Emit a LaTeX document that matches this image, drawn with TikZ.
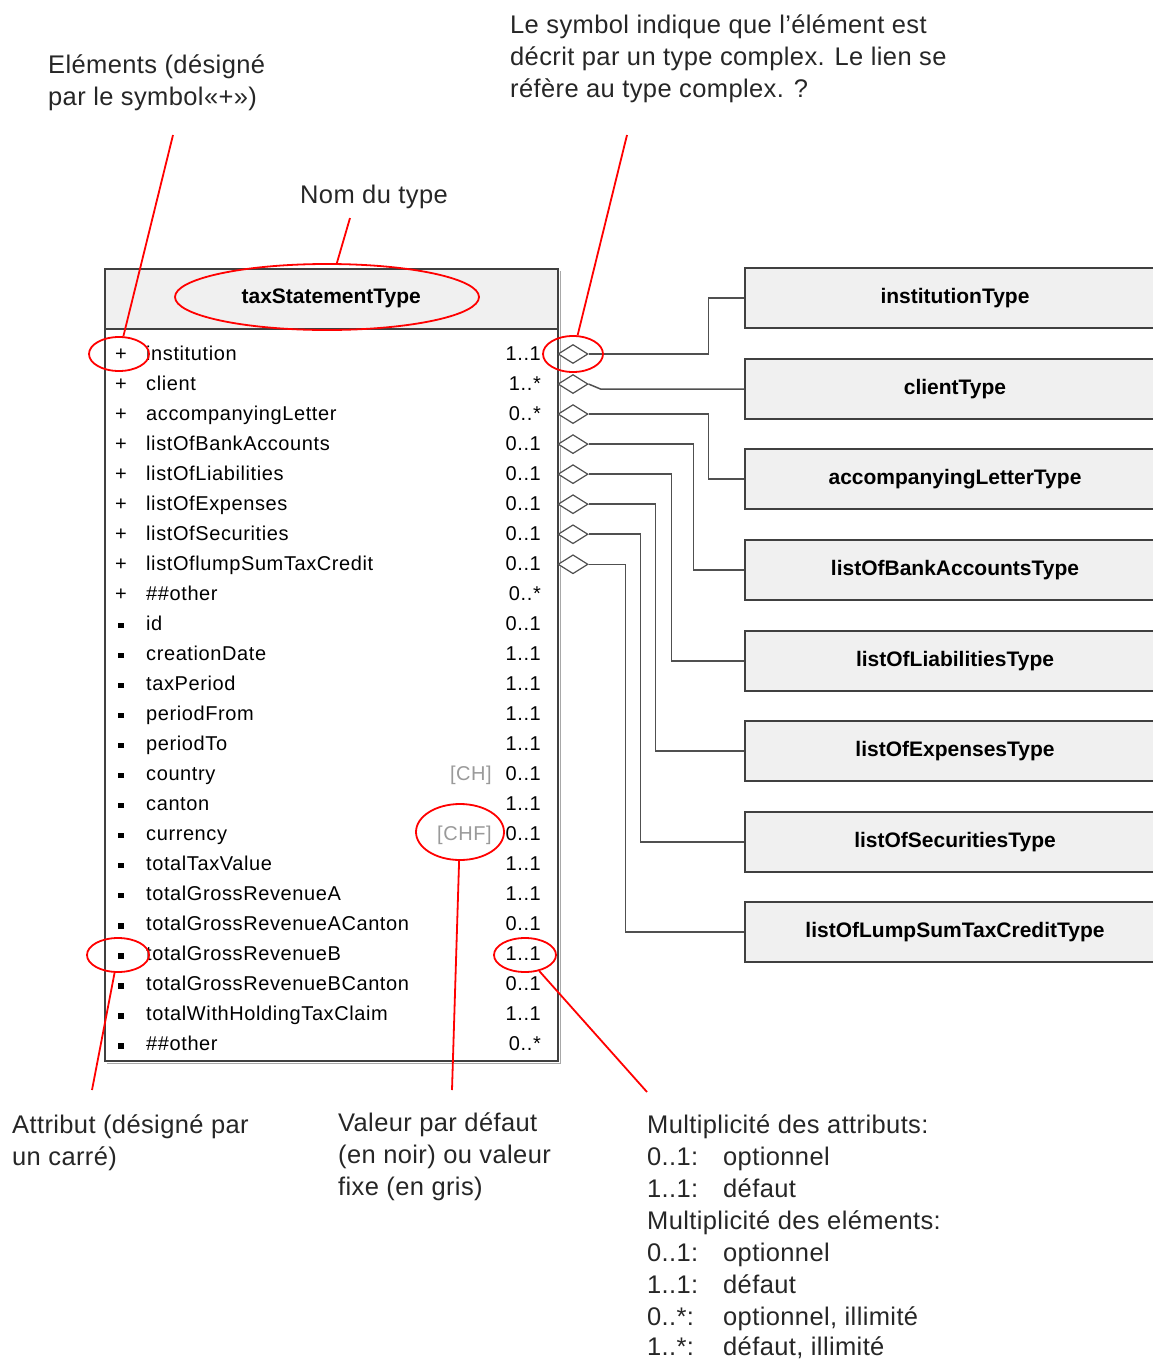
\documentclass[tikz,border=0pt]{standalone}
\usepackage{fontspec}
\setmainfont{Liberation Sans}
\usetikzlibrary{shapes.geometric}
\definecolor{boxline}{HTML}{404040}
\definecolor{boxfill}{HTML}{F0F0F0}
\definecolor{conn}{HTML}{505050}
\definecolor{fixgray}{HTML}{9A9A9A}
\definecolor{annred}{HTML}{FF0000}
\definecolor{shadowgray}{HTML}{A8A8A8}
\newcommand{\elrow}[3]{%
  \pgfmathsetmacro{\ry}{354+30.04*#1}
  \node[rowtext, anchor=base] (s#1) at (121,\ry+6) {+};
  \node[rowtext, anchor=base west] (n#1) at (146,\ry+6) {#2};
  \node[rowtext, anchor=base east] (m#1) at (541,\ry+6) {#3};
}
\newcommand{\atrow}[3]{%
  \pgfmathsetmacro{\ry}{354+30.04*#1}
  \node[fill=black, minimum size=5.5pt, inner sep=0pt] (s#1) at (121,\ry+1) {};
  \node[rowtext, anchor=base west] (n#1) at (146,\ry+6) {#2};
  \node[rowtext, anchor=base east] (m#1) at (541,\ry+6) {#3};
}
\begin{document}
\begin{tikzpicture}[x=1pt,y=-1pt,
  rowtext/.style={inner sep=0pt, font=\fontsize{20}{24}\selectfont\addfontfeature{LetterSpace=3}},
  typebox/.style={draw=boxline, fill=boxfill, line width=1.5pt, minimum width=420pt, minimum height=60pt, inner sep=0pt, font=\fontsize{21}{25}\selectfont\bfseries},
  dia/.style={diamond, draw=conn, line width=1.2pt, fill=white, minimum width=30pt, minimum height=19pt, inner sep=0pt},
  connector/.style={draw=conn, line width=1.5pt},
  redell/.style={ellipse, draw=annred, line width=1.8pt, inner sep=0pt},
  redline/.style={draw=annred, line width=1.8pt},
  anntext/.style={inner sep=0pt, anchor=base west, font=\fontsize{25.5}{32}\selectfont\addfontfeature{LetterSpace=1.5}, text=black!85}
]
\useasboundingbox (0,0) rectangle (1153,1360);
\clip (0,0) rectangle (1153,1360);

% main type box
\node[draw=boxline, fill=white, line width=1.5pt, minimum width=453pt, minimum height=792pt, anchor=north west, inner sep=0pt] (mainbox) at (104,268) {};
\draw[shadowgray, line width=1.5pt] ([xshift=2pt, yshift=-3pt]mainbox.north east) |- ([xshift=3pt, yshift=-2pt]mainbox.south west);
\node[draw=boxline, fill=boxfill, line width=1.5pt, minimum width=453pt, minimum height=60pt, anchor=north west, inner sep=0pt, font=\fontsize{21}{25}\selectfont\bfseries] (hdr) at (104,268) {taxStatementType};

% element rows
\elrow{0}{institution}{1..1}
\elrow{1}{client}{1..*}
\elrow{2}{accompanyingLetter}{0..*}
\elrow{3}{listOfBankAccounts}{0..1}
\elrow{4}{listOfLiabilities}{0..1}
\elrow{5}{listOfExpenses}{0..1}
\elrow{6}{listOfSecurities}{0..1}
\elrow{7}{listOflumpSumTaxCredit}{0..1}
\elrow{8}{\#\#other}{0..*}
% attribute rows
\atrow{9}{id}{0..1}
\atrow{10}{creationDate}{1..1}
\atrow{11}{taxPeriod}{1..1}
\atrow{12}{periodFrom}{1..1}
\atrow{13}{periodTo}{1..1}
\atrow{14}{country}{0..1}
\atrow{15}{canton}{1..1}
\atrow{16}{currency}{0..1}
\atrow{17}{totalTaxValue}{1..1}
\atrow{18}{totalGrossRevenueA}{1..1}
\atrow{19}{totalGrossRevenueACanton}{0..1}
\atrow{20}{totalGrossRevenueB}{1..1}
\atrow{21}{totalGrossRevenueBCanton}{0..1}
\atrow{22}{totalWithHoldingTaxClaim}{1..1}
\atrow{23}{\#\#other}{0..*}
% fixed values
\node[rowtext, anchor=base east, text=fixgray] (vCH) at (492,{354+30.04*14+6}) {[CH]};
\node[rowtext, anchor=base east, text=fixgray] (vCHF) at (492,{354+30.04*16+6}) {[CHF]};

% referenced complex types
\node[typebox] (tInst)   at (955,298) {institutionType};
\node[typebox] (tClient) at (955,389) {clientType};
\node[typebox] (tAcc)    at (955,479) {accompanyingLetterType};
\node[typebox] (tBank)   at (955,570) {listOfBankAccountsType};
\node[typebox] (tLiab)   at (955,661) {listOfLiabilitiesType};
\node[typebox] (tExp)    at (955,751) {listOfExpensesType};
\node[typebox] (tSec)    at (955,842) {listOfSecuritiesType};
\node[typebox] (tLump)   at (955,932) {listOfLumpSumTaxCreditType};

% diamonds
\foreach \k in {0,...,7}{
  \node[dia] (d\k) at (573,{354+30.04*\k}) {};
}

% connectors
\draw[connector] (d0.east) -- ++(120,0) |- (tInst.west);
\draw[connector] (d1.east) -- ++(12,5) -- (tClient.west);
\draw[connector] (d2.east) -- ++(120,0) |- (tAcc.west);
\draw[connector] (d3.east) -- ++(105,0) |- (tBank.west);
\draw[connector] (d4.east) -- ++(83,0) |- (tLiab.west);
\draw[connector] (d5.east) -- ++(67,0) |- (tExp.west);
\draw[connector] (d6.east) -- ++(52,0) |- (tSec.west);
\draw[connector] (d7.east) -- ++(37,0) |- (tLump.west);

% annotation texts
\node[anntext] (aElem1) at (48,73) {Eléments (désigné};
\node[anntext] (aElem2) at (48,105) {par le symbol«+»)};
\node[anntext] (aSym1) at (510,33) {Le symbol indique que l’élément est};
\node[anntext] (aSym2) at (510,65) {décrit par un type complex. Le lien se};
\node[anntext] (aSym3) at (510,97) {réfère au type complex. ?};
\node[anntext] (aNom) at (300,203) {Nom du type};
\node[anntext] (aAtt1) at (12,1133) {Attribut (désigné par};
\node[anntext] (aAtt2) at (12,1165) {un carré)};
\node[anntext] (aVal1) at (338,1131) {Valeur par défaut};
\node[anntext] (aVal2) at (338,1163) {(en noir) ou valeur};
\node[anntext] (aVal3) at (338,1195) {fixe (en gris)};
\node[anntext] (aM1) at (647,1133) {Multiplicité des attributs:};
\node[anntext] (aM2k) at (647,1165) {0..1:};
\node[anntext] (aM2v) at (723,1165) {optionnel};
\node[anntext] (aM3k) at (647,1197) {1..1:};
\node[anntext] (aM3v) at (723,1197) {défaut};
\node[anntext] (aM4) at (647,1229) {Multiplicité des eléments:};
\node[anntext] (aM5k) at (647,1261) {0..1:};
\node[anntext] (aM5v) at (723,1261) {optionnel};
\node[anntext] (aM6k) at (647,1293) {1..1:};
\node[anntext] (aM6v) at (723,1293) {défaut};
\node[anntext] (aM7k) at (647,1325) {0..*:};
\node[anntext] (aM7v) at (723,1325) {optionnel, illimité};
\node[anntext] (aM8k) at (647,1355) {1..*:};
\node[anntext] (aM8v) at (723,1355) {défaut, illimité};

% red highlight ellipses
\node[redell, minimum width=304pt, minimum height=66pt] (eHdr) at (327,297) {};
\node[redell, minimum width=60pt, minimum height=34pt] (ePlus) at (119,354) {};
\node[redell, minimum width=60pt, minimum height=36pt] (eDia) at (573,354) {};
\node[redell, minimum width=88pt, minimum height=56pt] (eCHF) at (460,832) {};
\node[redell, minimum width=62pt, minimum height=34pt] (eSq) at (118,955) {};
\node[redell, minimum width=62pt, minimum height=34pt] (eMul) at (525,955) {};

% red pointer lines
\coordinate (cElem) at (173,135);
\coordinate (cSym) at (627,135);
\coordinate (cNom) at (350,218);
\coordinate (cVal) at (452,1090);
\coordinate (cAtt) at (92,1090);
\coordinate (cMul) at (647,1092);
\draw[redline] (cElem) -- (ePlus);
\draw[redline] (cSym) -- (eDia);
\draw[redline] (cNom) -- (eHdr);
\draw[redline] (eCHF) -- (cVal);
\draw[redline] (eSq) -- (cAtt);
\draw[redline] (eMul) -- (cMul);
\end{tikzpicture}
\end{document}
